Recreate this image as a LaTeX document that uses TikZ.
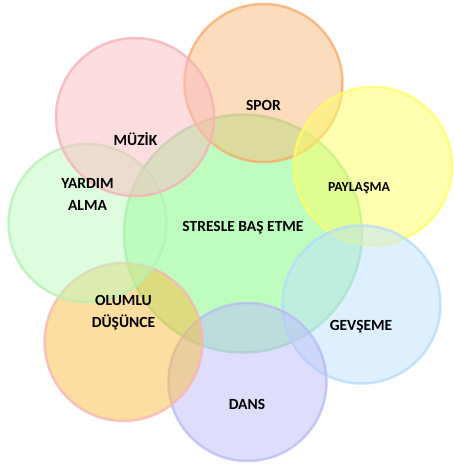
\documentclass[tikz,border=0pt]{standalone}
\usepackage{fontspec}
\setmainfont{Carlito}
\definecolor{cCenter}{RGB}{127,251,127}
\definecolor{bCenter}{RGB}{150,225,160}
\definecolor{cSpor}{RGB}{251,185,125}
\definecolor{bSpor}{RGB}{247,170,105}
\definecolor{cMuzik}{RGB}{251,187,193}
\definecolor{bMuzik}{RGB}{246,175,182}
\definecolor{cPay}{RGB}{255,255,97}
\definecolor{bPay}{RGB}{255,255,100}
\definecolor{cYar}{RGB}{189,251,189}
\definecolor{bYar}{RGB}{180,240,180}
\definecolor{cGev}{RGB}{189,225,253}
\definecolor{bGev}{RGB}{180,220,250}
\definecolor{cOlu}{RGB}{249,189,65}
\definecolor{bOlu}{RGB}{246,180,186}
\definecolor{cDans}{RGB}{189,189,249}
\definecolor{bDans}{RGB}{185,185,245}
\tikzset{
  bubble/.style={circle, inner sep=0pt, minimum size=158pt, line width=2.5pt, fill opacity=0.5, draw opacity=0.75},
  bigbubble/.style={bubble, minimum size=238pt},
  lbl/.style={font=\fontsize{15.5}{22}\selectfont\bfseries, align=center, text=black, inner sep=0pt},
}
\begin{document}
\begin{tikzpicture}[x=1pt,y=-1pt]
\useasboundingbox (0,0) rectangle (453,466);
\node[bigbubble, fill=cCenter, draw=bCenter] (center) at (243,233.5) {};
\node[bubble, fill=cSpor, draw=bSpor] (spor) at (263.5,83) {};
\node[bubble, fill=cPay, draw=bPay] (pay) at (373,166) {};
\node[bubble, fill=cGev, draw=bGev] (gev) at (361.5,304.5) {};
\node[bubble, fill=cDans, draw=bDans] (dans) at (247.5,382) {};
\node[bubble, fill=cOlu, draw=bOlu] (olu) at (123.5,342) {};
\node[bubble, fill=cYar, draw=bYar] (yar) at (87.5,223) {};
\node[bubble, fill=cMuzik, draw=bMuzik] (muzik) at (135,117) {};
\node[lbl] (tcenter) at (243,228) {STRESLE BAŞ ETME};
\node[lbl] (tspor) at (263.5,105.5) {SPOR};
\node[lbl] (tmuzik) at (135.5,139) {MÜZİK};
\node[lbl] (tyar) at (87.5,194) {YARDIM\\ALMA};
\node[lbl, font=\fontsize{13.8}{20}\selectfont\bfseries] (tpay) at (359,188) {PAYLAŞMA};
\node[lbl] (tolu) at (123.5,313) {OLUMLU\\DÜŞÜNCE};
\node[lbl] (tgev) at (361,327) {GEVŞEME};
\node[lbl] (tdans) at (247,404) {DANS};
\end{tikzpicture}
\end{document}
